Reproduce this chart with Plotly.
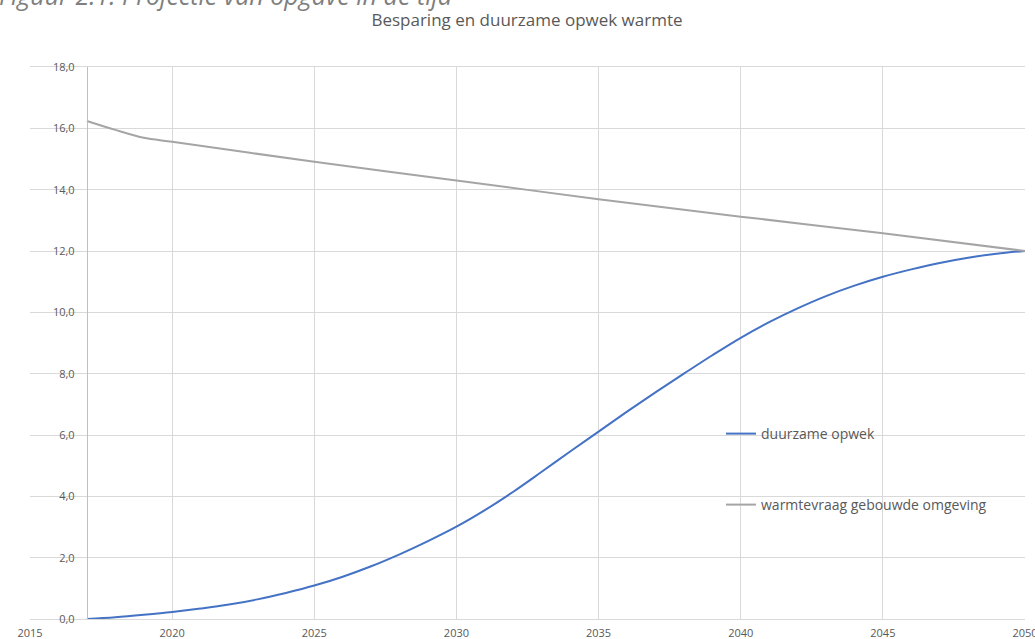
import plotly.graph_objects as go

# ---- data ----
years_opwek = [2017, 2018, 2019, 2020, 2021, 2022, 2023, 2024, 2025, 2026, 2027, 2028,
               2029, 2030, 2031, 2032, 2033, 2034, 2035, 2036, 2037, 2038, 2039, 2040,
               2041, 2042, 2043, 2044, 2045, 2046, 2047, 2048, 2049, 2050]
duurzame_opwek = [0.0, 0.06, 0.14, 0.23, 0.34, 0.47, 0.64, 0.85, 1.09, 1.38, 1.72, 2.11,
                  2.54, 3.01, 3.55, 4.15, 4.80, 5.46, 6.11, 6.76, 7.39, 8.00, 8.60, 9.17,
                  9.68, 10.13, 10.53, 10.87, 11.16, 11.40, 11.61, 11.78, 11.91, 12.0]

years_vraag = [2017, 2018, 2019, 2020, 2025, 2030, 2035, 2040, 2045, 2050]
warmtevraag = [16.24, 15.95, 15.69, 15.56, 14.91, 14.30, 13.69, 13.12, 12.58, 12.0]

x_ticks = [2015, 2020, 2025, 2030, 2035, 2040, 2045, 2050]
y_ticks = [0, 2, 4, 6, 8, 10, 12, 14, 16, 18]

title_text = "Besparing en duurzame opwek warmte"
caption_text = "Figuur 2.1: Projectie van opgave in de tijd"
name_opwek = "duurzame opwek"
name_vraag = "warmtevraag gebouwde omgeving"

FONT = "Open Sans"
TXT = "#595959"
GRID = "#d9d9d9"

fig = go.Figure()
fig.add_trace(go.Scatter(
    x=years_opwek, y=duurzame_opwek, mode="lines", name=name_opwek,
    line=dict(color="#4472C4", width=2, shape="spline", smoothing=1.0),
    legend="legend",
))
fig.add_trace(go.Scatter(
    x=years_vraag, y=warmtevraag, mode="lines", name=name_vraag,
    line=dict(color="#A5A5A5", width=2, shape="spline", smoothing=0.8),
    legend="legend2",
))

L, R, T, B = 30, 10, 67, 20
W, H = 1035, 639
pw, ph = W - L - R, H - T - B

def px_x(p):
    return (p - L) / pw

def px_y(p):
    return (H - B - p) / ph

fig.update_layout(
    width=W, height=H,
    margin=dict(l=L, r=R, t=T, b=B, autoexpand=False),
    paper_bgcolor="white", plot_bgcolor="white",
    separators=",.",
    font=dict(family=FONT, color=TXT, size=11),
    title=dict(text=title_text, x=527 / W, xanchor="center", xref="container",
               yref="container", y=1 - 20 / H, yanchor="middle",
               font=dict(family=FONT, size=17, color=TXT)),
    xaxis=dict(range=[2015, 2050], tickvals=x_ticks, showgrid=True, gridcolor=GRID,
               gridwidth=1, showline=True, linecolor=GRID, linewidth=1, mirror=True,
               zeroline=False, ticks="", tickfont=dict(size=11, color=TXT),
               ticklabelstandoff=4, ticklabeloverflow="allow",
               automargin=False, fixedrange=True),
    yaxis=dict(range=[0, 18], tickvals=y_ticks, tickformat=".1f", showgrid=True,
               gridcolor=GRID, gridwidth=1, showline=True, linecolor="#bfbfbf",
               linewidth=1, zeroline=False, ticks="", anchor="free",
               position=2 / 35, tickfont=dict(size=11, color=TXT),
               ticklabelstandoff=10, ticklabeloverflow="allow",
               automargin=False, fixedrange=True),
    legend=dict(x=px_x(721), y=px_y(434), xanchor="left", yanchor="middle",
                bgcolor="rgba(0,0,0,0)", font=dict(family=FONT, size=14, color=TXT)),
    legend2=dict(x=px_x(721), y=px_y(505), xanchor="left", yanchor="middle",
                 bgcolor="rgba(0,0,0,0)", font=dict(family=FONT, size=14, color=TXT)),
    showlegend=True,
)

fig.add_annotation(
    text="<i>" + caption_text + "</i>", xref="paper", yref="paper",
    x=px_x(-3), y=px_y(14), xanchor="left", yanchor="bottom",
    showarrow=False, font=dict(family=FONT, size=25, color="#7f7f7f"),
)

fig.write_html("out.html", config={"displayModeBar": False},
               post_script="document.body.style.margin='0';document.body.style.overflow='hidden';")
